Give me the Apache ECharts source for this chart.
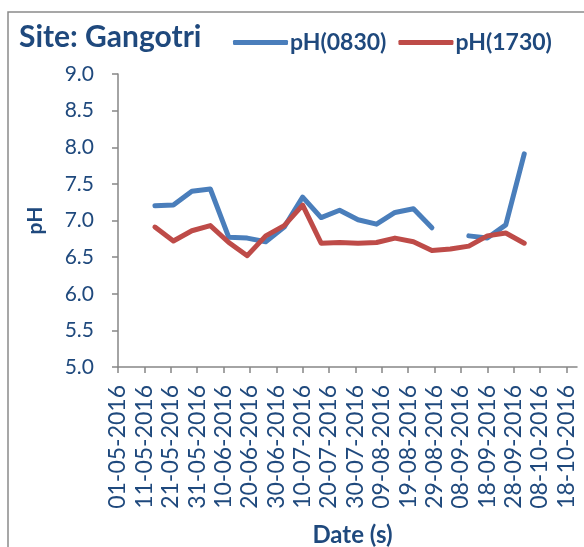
<!DOCTYPE html>
<html>
<head>
<meta charset="utf-8">
<script src="https://cdn.jsdelivr.net/npm/echarts@6/dist/echarts.min.js"></script>
<style>html,body{margin:0;padding:0;background:#fff}#c{width:584px;height:547px}</style>
</head>
<body>
<div id="c"></div>
<script>
const dates = ['2016-05-15','2016-05-22','2016-05-29','2016-06-05','2016-06-12','2016-06-19','2016-06-26',
  '2016-07-03','2016-07-10','2016-07-17','2016-07-24','2016-07-31','2016-08-07','2016-08-14',
  '2016-08-21','2016-08-28','2016-09-04','2016-09-11','2016-09-18','2016-09-25','2016-10-02'];
const ph0830 = [7.20,7.21,7.40,7.43,6.77,6.76,6.71,6.91,7.32,7.04,7.14,7.01,6.95,7.11,7.16,6.90,null,6.79,6.76,6.94,7.91];
const ph1730 = [6.91,6.72,6.86,6.93,6.70,6.52,6.79,6.93,7.21,6.69,6.70,6.69,6.70,6.76,6.71,6.59,6.61,6.65,6.79,6.83,6.69];
const xTickLabels = ['01-05-2016','11-05-2016','21-05-2016','31-05-2016','10-06-2016','20-06-2016','30-06-2016',
  '10-07-2016','20-07-2016','30-07-2016','09-08-2016','19-08-2016','29-08-2016','08-09-2016','18-09-2016',
  '28-09-2016','08-10-2016','18-10-2016'];
const yTicks = ['5.0','5.5','6.0','6.5','7.0','7.5','8.0','8.5','9.0'];

const DAY = 86400000;
const START = Date.UTC(2016, 4, 1);
function dayOf(s) { const p = s.split('-').map(Number); return (Date.UTC(p[0], p[1]-1, p[2]) - START) / DAY; }
const tickDays = xTickLabels.map(l => { const p = l.split('-').map(Number); return (Date.UTC(p[2], p[1]-1, p[0]) - START) / DAY; });
const labelByDay = {}; tickDays.forEach((d, i) => labelByDay[d] = xTickLabels[i]);

const TXT = '#1F497D';
const FONT = 'Lato';
const AX = '#868686';
const BLUE = '#4A7EBB', RED = '#BE4B48';
const chart = echarts.init(document.getElementById('c'));
chart.setOption({
  animation: false,
  textStyle: { fontFamily: FONT },
  graphic: [{ type: 'rect', shape: { x: 8, y: 12, width: 700, height: 700 }, style: { fill: 'none', stroke: '#8a8a8a', lineWidth: 1.5 }, silent: true }],
  title: { text: 'Site: Gangotri', left: 14, top: 17, textStyle: { fontFamily: FONT, fontSize: 30, fontWeight: 'bold', color: TXT } },
  legend: {
    left: 228, top: 26, itemWidth: 55, itemHeight: 5, itemGap: 12, icon: 'roundRect',
    textStyle: { fontFamily: FONT, fontSize: 23, fontWeight: 'bold', color: TXT, padding: [0,0,0,-3] },
    data: ['pH(0830)', 'pH(1730)']
  },
  grid: { left: 118, right: 7, top: 74, bottom: 180, containLabel: false, outerBoundsMode: 'none' },
  xAxis: {
    type: 'value', min: 0, max: 174,
    name: 'Date (s)', nameLocation: 'middle', nameGap: 156,
    nameTextStyle: { fontFamily: FONT, fontSize: 24, fontWeight: 'bold', color: TXT, padding: [0,0,0,10] },
    axisLine: { show: true, lineStyle: { color: AX, width: 1.5 } },
    axisTick: { show: true, length: 6, customValues: tickDays, lineStyle: { color: AX, width: 1.5 } },
    axisLabel: { customValues: tickDays, rotate: 90, margin: 18, fontSize: 23, color: TXT, fontFamily: FONT,
      formatter: v => labelByDay[v] || '' },
    splitLine: { show: false }
  },
  yAxis: {
    type: 'value', min: 5, max: 9, interval: 0.5,
    name: 'pH', nameLocation: 'middle', nameGap: 72, nameRotate: 90,
    nameTextStyle: { fontFamily: FONT, fontSize: 21, fontWeight: 'bold', color: TXT },
    axisLine: { show: true, lineStyle: { color: AX, width: 1.5 } },
    axisTick: { show: true, length: 6, lineStyle: { color: AX, width: 1.5 } },
    axisLabel: { margin: 24, fontSize: 21, color: TXT, fontFamily: FONT, formatter: v => yTicks[Math.round((v - 5) / 0.5)] },
    splitLine: { show: false }
  },
  series: [
    { name: 'pH(0830)', type: 'line', showSymbol: false, symbol: 'none', connectNulls: false,
      lineStyle: { color: BLUE, width: 5, cap: 'round', join: 'round' }, itemStyle: { color: BLUE },
      data: dates.map((d, i) => [dayOf(d), ph0830[i]]) },
    { name: 'pH(1730)', type: 'line', showSymbol: false, symbol: 'none',
      lineStyle: { color: RED, width: 5, cap: 'round', join: 'round' }, itemStyle: { color: RED },
      data: dates.map((d, i) => [dayOf(d), ph1730[i]]) }
  ]
});
</script>
</body>
</html>
